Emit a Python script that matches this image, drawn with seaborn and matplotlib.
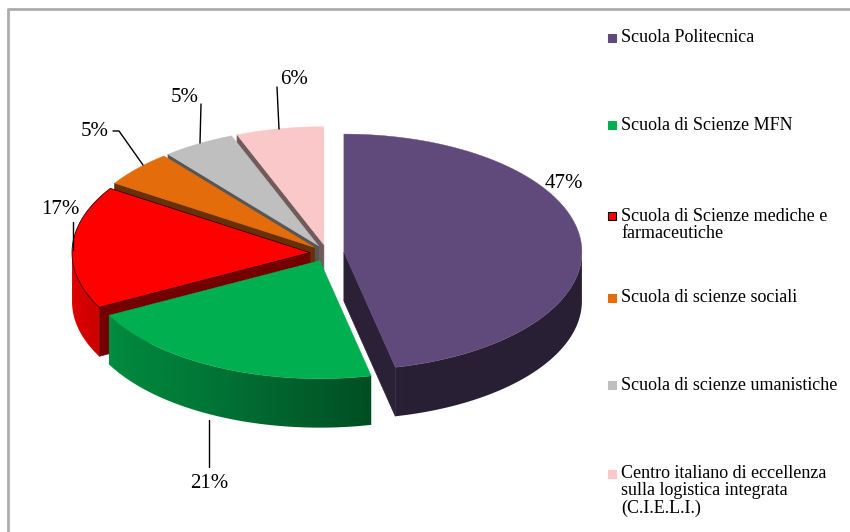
import numpy as np
import matplotlib
matplotlib.use("Agg")
import matplotlib.pyplot as plt
import seaborn as sns
from matplotlib.patches import Polygon, Rectangle

# -------------------------
# Data
# -------------------------
categories = [
    "Scuola Politecnica",
    "Scuola di Scienze MFN",
    "Scuola di Scienze mediche e\nfarmaceutiche",
    "Scuola di scienze sociali",
    "Scuola di scienze umanistiche",
    "Centro italiano di eccellenza\nsulla logistica integrata\n(C.I.E.L.I.)",
]
shares = [47, 21, 17, 5, 5, 6]
pct_labels = ["47%", "21%", "17%", "5%", "5%", "6%"]
colors = ["#604A7B", "#00B050", "#FF0000", "#E46C0A", "#BFBFBF", "#FAC8C8"]

# -------------------------
# Layout (pixels, y down)
# -------------------------
W, H = 850, 532
cx, cy = 327, 253          # pie centre (top face)
a, b = 238, 118            # ellipse semi axes
depth = 49
explode = 17

# label text positions and leader lines
label_pos = [(564, 184), (209, 483), (60, 209), (95, 131), (185, 97), (294, 79)]
leaders = [
    None,
    [(209, 420), (209, 467)],
    [(73, 222), (73, 250)],
    [(113, 131), (119, 131), (143, 165)],
    [(201, 104), (200, 143)],
    [(277, 87), (279, 129)],
]

legend_y = [38, 125, 225, 298, 385, 491]

sns.set_theme(style="white")
plt.rcParams["font.family"] = ["Liberation Serif", "DejaVu Serif"]

fig = plt.figure(figsize=(W / 100, H / 100), dpi=100)
ax = fig.add_axes([0, 0, 1, 1])
ax.set_xlim(0, W)
ax.set_ylim(H, 0)
ax.axis("off")


def shade(col, f):
    rgb = np.array(matplotlib.colors.to_rgb(col))
    return tuple(np.clip(rgb * f, 0, 1))


def wall_factor(theta):
    return np.interp(theta, [90, 165, 210, 270], [0.42, 0.43, 0.68, 0.9])


def pt(x0, y0, th, dz=0.0):
    r = np.radians(th)
    return (x0 + a * np.sin(r), y0 - b * np.cos(r) + dz)


# slice angles, clockwise from 12 o'clock
vals = np.array(shares, dtype=float)
bounds = np.concatenate([[0], np.cumsum(vals) / vals.sum() * 360])
slices = []
for i in range(len(vals)):
    t0, t1 = bounds[i], bounds[i + 1]
    mid = np.radians((t0 + t1) / 2)
    ox = cx + explode * np.sin(mid)
    oy = cy - explode * (b / a) * np.cos(mid)
    slices.append((i, t0, t1, ox, oy, -np.cos(mid)))

# draw back to front
for i, t0, t1, ox, oy, _ in sorted(slices, key=lambda s: s[5]):
    col = colors[i]

    # radial cut faces
    for th, sign in [(t0, -1), (t1, 1)]:
        r = np.radians(th)
        d = np.array([np.sin(r), -np.cos(r)])
        n = sign * np.array([-d[1], d[0]])
        if n[1] > 0.01:
            p = pt(ox, oy, th)
            face = [(ox, oy), p, (p[0], p[1] + depth), (ox, oy + depth)]
            ax.add_patch(Polygon(face, closed=True, facecolor=shade(col, 0.45),
                                 edgecolor=shade(col, 0.45), lw=0.5))

    # outer wall, front half only, shaded with a horizontal gradient
    w0, w1 = max(t0, 90), min(t1, 270)
    if w1 > w0:
        ths = np.linspace(w0, w1, 200)
        upper = [pt(ox, oy, t) for t in ths]
        lower = [pt(ox, oy, t, depth) for t in ths[::-1]]
        wall = Polygon(upper + lower, closed=True, facecolor="none",
                       edgecolor="none")
        ax.add_patch(wall)
        xs = np.array([p[0] for p in upper])
        x_lo, x_hi = xs.min() - 1, xs.max() + 1
        ys = [p[1] for p in upper + lower]
        y_lo, y_hi = min(ys) - 1, max(ys) + 1
        gx = np.linspace(x_lo, x_hi, 400)
        s = np.clip((gx - ox) / a, -1, 1)
        gth = 180 - np.degrees(np.arcsin(s))
        img = np.array([shade(col, wall_factor(t)) for t in gth])[None, :, :]
        im = ax.imshow(img, extent=(x_lo, x_hi, y_hi, y_lo), aspect="auto",
                       interpolation="bilinear", zorder=1)
        im.set_clip_path(wall)

    # top face
    ths = np.linspace(t0, t1, 120)
    top = [(ox, oy)] + [pt(ox, oy, t) for t in ths]
    ec = "#3a0000" if i == 2 else col
    ax.add_patch(Polygon(top, closed=True, facecolor=col, edgecolor=ec,
                         lw=0.6 if i == 2 else 0.3, zorder=1))

ax.set_xlim(0, W)
ax.set_ylim(H, 0)

# percent labels
for txt, (x, y), ld in zip(pct_labels, label_pos, leaders):
    ax.text(x, y, txt, fontsize=15, ha="center", va="center", color="black")
    if ld is not None:
        lx, ly = zip(*ld)
        ax.plot(lx, ly, color="black", lw=1.0)

# legend
for name, col, y in zip(categories, colors, legend_y):
    nlines = name.count("\n") + 1
    ytop = y - (nlines - 1) * 17.5 / 2
    ax.add_patch(Rectangle((608, ytop - 4), 8, 8, facecolor=col,
                           edgecolor="black" if col == "#FF0000" else col, lw=0.8))
    ax.text(621, y, name, fontsize=13, ha="left", va="center", color="black",
            linespacing=1.05)

# chart border
ax.plot([8, 8, W], [H, 9, 9], color="#ADADAD", lw=2)

fig.savefig("out.png", dpi=100)
